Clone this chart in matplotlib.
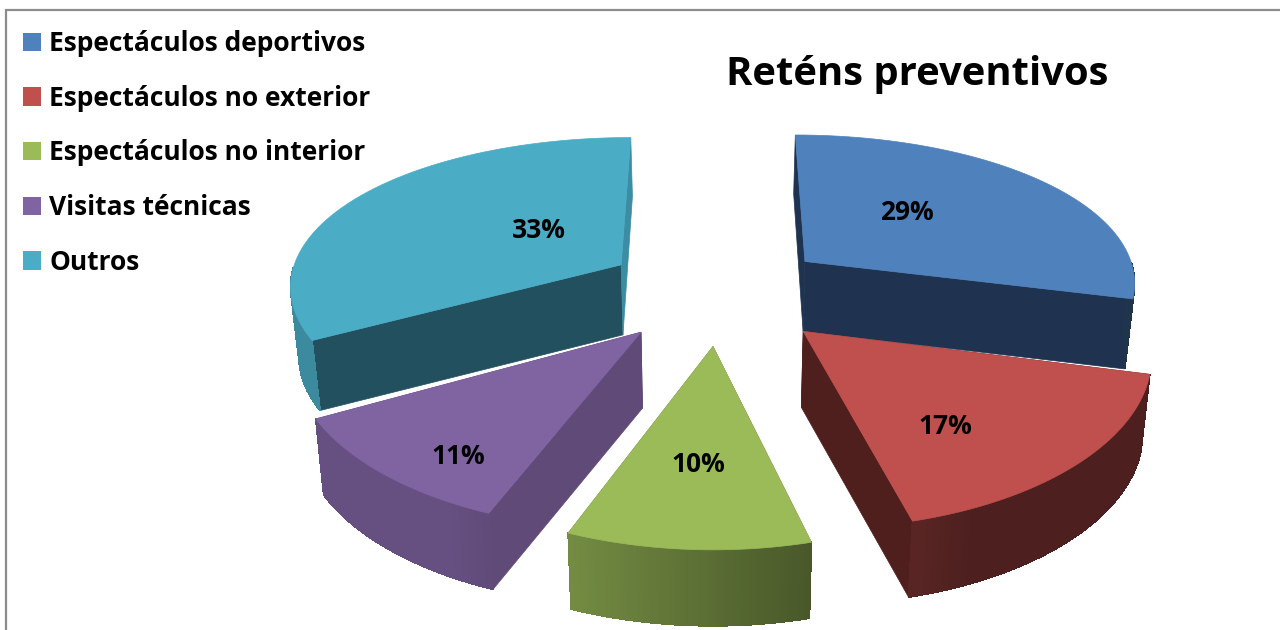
import numpy as np
import matplotlib
matplotlib.use("Agg")
import matplotlib.pyplot as plt
from matplotlib.patches import Patch, Polygon

categories = ["Espectáculos deportivos", "Espectáculos no exterior",
              "Espectáculos no interior", "Visitas técnicas", "Outros"]
values = [29, 17, 10, 11, 33]
title = "Reténs preventivos"

colors = ["#4F81BD", "#C0504D", "#9BBB59", "#8064A2", "#4BACC6"]
wall_start = ["#1F3350", "#4F1F1D", "#62793A", "#5F4A78", "#23505E"]
wall_end = ["#1F3350", "#4F1F1D", "#62793A", "#5F4A78", "#3A8DA3"]
offset_x = [0.282, 0.262, 0.0, -0.209, -0.281]
offset_y = [0.23, -0.22, -0.31, -0.225, 0.207]
depth = [70, 76, 76, 76, 70]
label_x = [907, 945, 698, 458, 539]
label_y = [212, 426, 464, 456, 230]
draw_order = [4, 0, 3, 2, 1]

CX, CY = 713, 296
RX, RY = 335, 155.3
KX, KY = 0.12, 0.1515
plt.rcParams["font.family"] = ["Open Sans", "DejaVu Sans"]


def project(X, Y):
    return CX + RX * X / (1 + KX * Y), CY - RY * Y / (1 + KY * Y)


def drop(x, y, d):
    return CX + (x - CX) * 0.98, y + d * np.interp(y, [135, 262], [0.84, 1.0])


def scale(c, f):
    return tuple(v * f for v in matplotlib.colors.to_rgb(c))


fig = plt.figure(figsize=(12.8, 6.3), dpi=100)
ax = fig.add_axes([0, 0, 1, 1])
ax.set_xlim(0, 1280)
ax.set_ylim(630, 0)
ax.axis("off")

ax.plot([6, 6, 1280], [630, 10, 10], color="#8C8C8C", lw=1.6, solid_joinstyle="miter")

total = sum(values)
edges = np.concatenate([[0], np.cumsum(values)]) * 360.0 / total


def poly(pts, color, z, aa=True):
    ax.add_patch(Polygon(pts, closed=True, facecolor=color, edgecolor=color, lw=0.5,
                         zorder=z, antialiased=aa))


for z, i in enumerate(draw_order):
    a0, a1 = np.radians(edges[i]), np.radians(edges[i + 1])
    ox, oy = offset_x[i], offset_y[i]
    ang = np.linspace(a0, a1, 61)
    ax_x, ax_y = project(ox, oy)
    px, py = project(ox + np.sin(ang), oy + np.cos(ang))
    bx, by = drop(px, py, depth[i])
    b0x, b0y = drop(ax_x, ax_y, depth[i])
    base = z * 10 + 1
    poly([(ax_x, ax_y), (px[0], py[0]), (bx[0], by[0]), (b0x, b0y)], wall_start[i], base)
    poly([(ax_x, ax_y), (px[-1], py[-1]), (bx[-1], by[-1]), (b0x, b0y)], wall_end[i], base)
    for k in range(len(ang) - 1):
        am = (ang[k] + ang[k + 1]) / 2
        if np.cos(am) > -0.02:
            continue
        f = np.clip(0.58 - 0.45 * np.sin(am), 0.4, 0.8)
        poly([(px[k], py[k]), (px[k + 1], py[k + 1]), (bx[k + 1], by[k + 1]), (bx[k], by[k])],
             scale(colors[i], f), base + 1, aa=False)
    poly(np.vstack([[ax_x, ax_y], np.column_stack([px, py])]), colors[i], base + 2)
    ax.text(label_x[i], label_y[i], f"{values[i]}%", ha="center", va="center", fontsize=19,
            fontweight="bold", color="black", zorder=100)

ax.text(917, 74, title, ha="center", va="center", fontsize=28.8, fontweight="bold",
        color="black", zorder=100)

handles = [Patch(facecolor=c, edgecolor="none") for c in colors]
ax.legend(handles, categories, loc="upper left", bbox_to_anchor=(23 / 1280, 1 - 30 / 630),
          frameon=False, borderpad=0, borderaxespad=0,
          handlelength=0.7, handleheight=0.7, handletextpad=0.3, labelspacing=1.05,
          prop={"size": 19, "weight": "bold"})

fig.savefig("out.png", dpi=100)
